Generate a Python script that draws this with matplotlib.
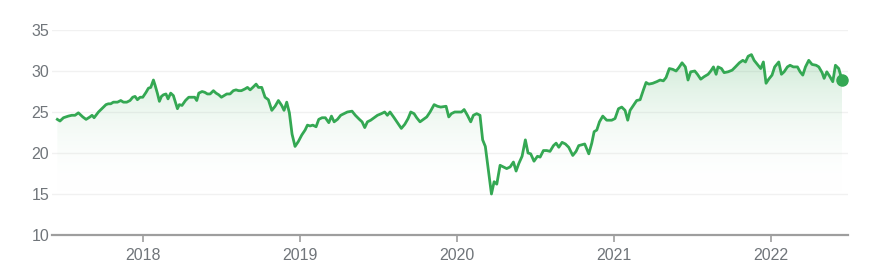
import numpy as np
import matplotlib
matplotlib.use("Agg")
import matplotlib.pyplot as plt
from matplotlib.colors import LinearSegmentedColormap

# decimal years and closing prices
years = [
    2017.454, 2017.471, 2017.493, 2017.524, 2017.546, 2017.567, 2017.588, 2017.616,
    2017.637, 2017.662, 2017.675, 2017.688, 2017.716, 2017.737, 2017.764, 2017.779,
    2017.794, 2017.811, 2017.837, 2017.858, 2017.875, 2017.896, 2017.917, 2017.934,
    2017.949, 2017.964, 2017.981, 2017.998, 2018.019, 2018.034, 2018.049, 2018.066,
    2018.076, 2018.091, 2018.104, 2018.117, 2018.130, 2018.146, 2018.159, 2018.176,
    2018.193, 2018.206, 2018.219, 2018.231, 2018.248, 2018.270, 2018.291, 2018.312,
    2018.329, 2018.342, 2018.355, 2018.376, 2018.393, 2018.410, 2018.427, 2018.448,
    2018.465, 2018.482, 2018.499, 2018.516, 2018.533, 2018.554, 2018.575, 2018.592,
    2018.609, 2018.626, 2018.648, 2018.665, 2018.682, 2018.699, 2018.720, 2018.735,
    2018.756, 2018.777, 2018.798, 2018.820, 2018.841, 2018.862, 2018.883, 2018.898,
    2018.915, 2018.932, 2018.949, 2018.968,
    2018.989, 2019.011, 2019.032, 2019.047, 2019.064, 2019.081, 2019.102, 2019.119,
    2019.140, 2019.161, 2019.183, 2019.200, 2019.217, 2019.238, 2019.259, 2019.280,
    2019.301, 2019.331, 2019.352, 2019.378, 2019.395, 2019.412, 2019.429, 2019.450,
    2019.471, 2019.493, 2019.518, 2019.539, 2019.556, 2019.573, 2019.599, 2019.620,
    2019.645, 2019.667, 2019.688, 2019.705, 2019.726, 2019.743, 2019.764, 2019.786,
    2019.807, 2019.828, 2019.854, 2019.875, 2019.896, 2019.930, 2019.947, 2019.964,
    2019.985, 2020.006, 2020.028, 2020.045, 2020.066, 2020.087, 2020.104, 2020.125,
    2020.146, 2020.163, 2020.180, 2020.197, 2020.219, 2020.236, 2020.253, 2020.274,
    2020.295, 2020.316, 2020.338, 2020.359, 2020.376, 2020.393, 2020.414, 2020.435,
    2020.452, 2020.469, 2020.490, 2020.512, 2020.529, 2020.550, 2020.571, 2020.592,
    2020.614, 2020.631, 2020.648, 2020.669, 2020.690, 2020.711, 2020.737, 2020.758,
    2020.775, 2020.813, 2020.839,
    2020.858, 2020.873, 2020.890, 2020.907, 2020.928, 2020.953, 2020.985, 2021.006,
    2021.028, 2021.049, 2021.070, 2021.087, 2021.102, 2021.123, 2021.144, 2021.166,
    2021.187, 2021.204, 2021.221, 2021.246, 2021.272, 2021.293, 2021.314, 2021.331,
    2021.352, 2021.374, 2021.395, 2021.412, 2021.433, 2021.454, 2021.471, 2021.488,
    2021.514, 2021.531, 2021.552, 2021.573, 2021.599, 2021.616, 2021.633, 2021.650,
    2021.662, 2021.684, 2021.701, 2021.726, 2021.752, 2021.773, 2021.798, 2021.820,
    2021.837, 2021.854, 2021.875, 2021.892, 2021.913, 2021.934, 2021.951, 2021.968,
    2021.985, 2022.006, 2022.023, 2022.049, 2022.066, 2022.083, 2022.104, 2022.121,
    2022.142, 2022.168, 2022.185, 2022.202, 2022.219, 2022.240, 2022.261, 2022.287,
    2022.304, 2022.325, 2022.338, 2022.355, 2022.372, 2022.393, 2022.410, 2022.431,
    2022.452,
]
prices = [
    24.1, 23.9, 24.3, 24.5, 24.6, 24.6, 24.9, 24.4,
    24.1, 24.4, 24.6, 24.3, 25.0, 25.4, 25.9, 26.0,
    26.0, 26.2, 26.2, 26.4, 26.2, 26.2, 26.4, 26.8,
    26.9, 26.5, 26.8, 26.8, 27.4, 27.9, 28.0, 28.9,
    28.3, 27.3, 26.3, 26.9, 27.1, 27.2, 26.6, 27.3,
    27.0, 26.2, 25.4, 25.9, 25.8, 26.4, 26.8, 26.8,
    26.8, 26.4, 27.3, 27.5, 27.4, 27.2, 27.2, 27.6,
    27.3, 27.1, 26.8, 27.0, 27.2, 27.2, 27.6, 27.7,
    27.6, 27.6, 27.8, 28.0, 27.7, 28.0, 28.4, 28.0,
    28.0, 26.8, 26.5, 25.2, 25.7, 26.4, 25.8, 25.2,
    26.2, 24.9, 22.3, 20.8,
    21.4, 22.2, 22.8, 23.4, 23.3, 23.4, 23.2, 24.1,
    24.3, 24.3, 23.7, 24.5, 23.8, 24.1, 24.6, 24.8,
    25.0, 25.1, 24.6, 24.1, 23.8, 23.1, 23.8, 24.0,
    24.3, 24.6, 24.8, 25.0, 24.6, 25.0, 24.3, 23.7,
    23.0, 23.5, 24.2, 25.0, 24.8, 24.3, 23.8, 24.1,
    24.4, 25.0, 25.9, 25.7, 25.6, 25.7, 24.4, 24.8,
    25.0, 25.0, 25.0, 25.3, 24.6, 23.8, 24.6, 24.8,
    24.6, 21.6, 20.8, 18.3, 15.0, 16.5, 16.2, 18.5,
    18.3, 18.1, 18.3, 18.9, 17.8, 18.7, 19.6, 21.6,
    20.0, 19.9, 19.0, 19.6, 19.5, 20.3, 20.3, 20.2,
    20.9, 21.2, 20.7, 21.3, 21.1, 20.7, 19.7, 20.2,
    20.9, 21.1, 19.9,
    21.2, 22.6, 22.8, 23.8, 24.5, 24.0, 24.0, 24.2,
    25.4, 25.6, 25.2, 24.0, 25.2, 25.8, 26.4, 26.5,
    27.7, 28.6, 28.4, 28.5, 28.7, 28.9, 28.8, 29.2,
    30.3, 30.2, 30.0, 30.4, 31.0, 30.5, 28.9, 29.9,
    30.0, 29.6, 29.0, 29.3, 29.6, 30.0, 30.5, 29.6,
    30.5, 30.3, 29.8, 29.9, 30.1, 30.5, 31.0, 31.3,
    31.1, 31.8, 32.0, 31.3, 30.8, 30.3, 31.1, 28.5,
    29.0, 29.5, 30.5, 31.1, 29.6, 29.9, 30.5, 30.7,
    30.5, 30.5, 29.9, 29.5, 30.5, 31.3, 30.8, 30.7,
    30.5, 29.8, 29.1, 29.9, 29.4, 28.7, 30.7, 30.3,
    28.9,
]
year_ticks = [2018, 2019, 2020, 2021, 2022]
price_ticks = [10, 15, 20, 25, 30, 35]

green = "#34a853"
label_gray = "#70757a"

plt.rcParams["font.family"] = ["Liberation Sans", "DejaVu Sans"]

fig = plt.figure(figsize=(8.77, 2.76), dpi=100)
ax = fig.add_axes([52 / 877, 41 / 276, 796 / 877, 205 / 276])

x = np.array(years)
y = np.array(prices)

ax.set_xlim(2017.42, 2022.49)
ax.set_ylim(10, 35)

# gradient under the line: fades to white around 15
cmap = LinearSegmentedColormap.from_list("fade", [(1, 1, 1, 0), (0.204, 0.659, 0.325, 0.24)])
grad = np.clip((np.linspace(10, 35, 256) - 15) / 17, 0, 1).reshape(-1, 1)
img = ax.imshow(grad, cmap=cmap, aspect="auto", origin="lower",
                extent=[x[0], x[-1], 10, 35], zorder=1, vmin=0, vmax=1)
poly = ax.fill_between(x, y, 10, facecolor="none", edgecolor="none")
img.set_clip_path(poly.get_paths()[0], transform=ax.transData)

ax.plot(x, y, color=green, lw=2, zorder=3)
ax.plot(x[-1], y[-1], "o", color=green, ms=8, zorder=4)

ax.set_yticks(price_ticks)
ax.set_xticks(year_ticks)
ax.set_xticklabels([str(t) for t in year_ticks])
for t in price_ticks[1:]:
    ax.axhline(t, color="#f1f1f1", lw=1, zorder=0)

for s in ["top", "right", "left"]:
    ax.spines[s].set_visible(False)
ax.spines["bottom"].set_color("#9e9e9e")
ax.spines["bottom"].set_linewidth(1.6)

ax.tick_params(axis="y", length=0, pad=2, labelsize=11.5, labelcolor=label_gray)
ax.tick_params(axis="x", length=5, width=1.2, color="#9e9e9e", pad=4,
               labelsize=11.5, labelcolor=label_gray)

fig.savefig("out.png", dpi=100)
